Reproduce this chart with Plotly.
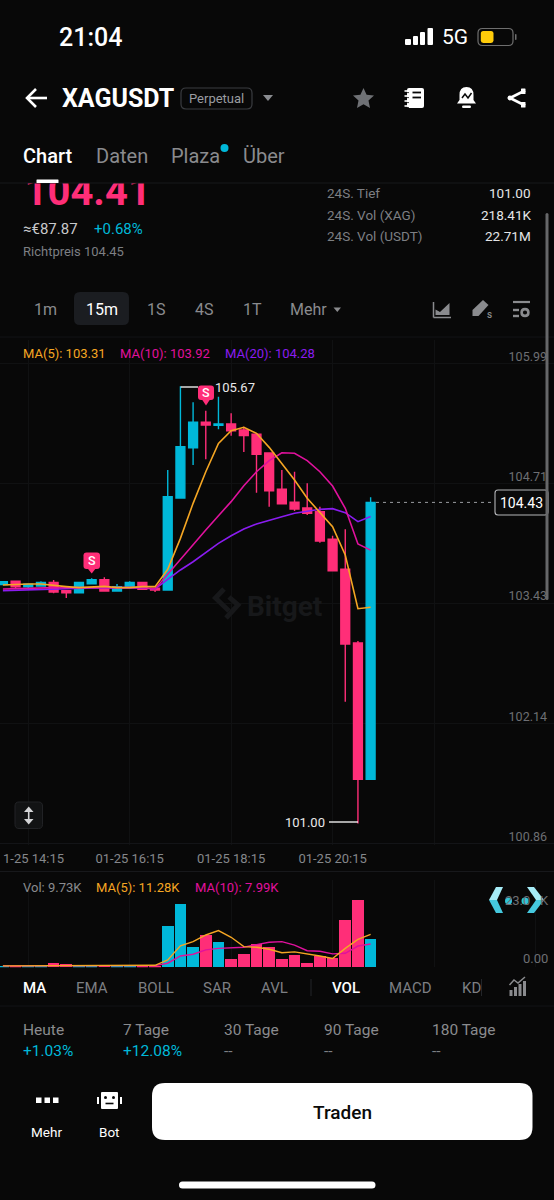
"""XAGUSDT 15m candle screen, phone screenshot style."""
import pandas as pd
import plotly.graph_objects as go

W, H = 554, 1200
BG = "#080808"
UP = "#00B8D9"
DOWN = "#FF2E78"
C_MA5 = "#F5A623"
C_MA10 = "#E0119D"
C_MA20 = "#8A1CF0"
GREY = "#8a8b8e"
GRID = "#101112"
FONT = "Roboto"

times = pd.date_range("2026-01-25 13:45", periods=30, freq="15min")

opens = [103.551, 103.587, 103.529, 103.537, 103.576, 103.487, 103.465, 103.561, 103.604, 103.483,
         103.529, 103.576, 103.512, 103.494, 104.477, 105.014, 105.286, 105.254, 105.268, 105.203,
         105.158, 104.958, 104.570, 104.431, 104.370, 104.331, 104.036, 103.715, 102.928, 101.472]
highs = [103.590, 103.590, 103.555, 103.587, 103.601, 103.494, 103.576, 103.619, 103.630, 103.558,
         103.587, 103.576, 103.512, 104.776, 105.670, 105.499, 105.410, 105.559, 105.382, 105.239,
         105.171, 104.958, 104.776, 104.758, 104.634, 104.384, 104.074, 104.143, 102.949, 104.484]
lows = [103.551, 103.515, 103.508, 103.537, 103.459, 103.409, 103.465, 103.561, 103.476, 103.483,
        103.529, 103.494, 103.473, 103.494, 104.477, 104.830, 104.890, 105.211, 105.143, 104.968,
        104.534, 104.384, 104.416, 104.338, 104.295, 104.000, 103.700, 102.301, 101.000, 101.472]
closes = [103.583, 103.529, 103.555, 103.576, 103.473, 103.465, 103.576, 103.604, 103.483, 103.529,
          103.576, 103.502, 103.494, 104.491, 105.025, 105.286, 105.257, 105.268, 105.196, 105.143,
          104.944, 104.555, 104.416, 104.359, 104.314, 104.018, 103.700, 102.917, 101.472, 104.430]

ma5 = [103.548, 103.555, 103.558, 103.558, 103.540, 103.530, 103.519, 103.530, 103.533, 103.519,
       103.519, 103.530, 103.530, 103.715, 104.046, 104.420, 104.758, 105.061, 105.197, 105.232,
       105.168, 105.018, 104.848, 104.669, 104.474, 104.320, 104.170, 103.868, 103.294, 103.310]
ma10 = [103.505, 103.508, 103.515, 103.522, 103.519, 103.519, 103.519, 103.526, 103.526, 103.526,
        103.522, 103.519, 103.505, 103.665, 103.822, 103.975, 104.135, 104.288, 104.438, 104.608,
        104.758, 104.876, 104.961, 104.955, 104.876, 104.758, 104.605, 104.367, 103.986, 103.920]
ma20 = [103.487, 103.491, 103.498, 103.505, 103.508, 103.508, 103.512, 103.515, 103.515, 103.519,
        103.519, 103.515, 103.505, 103.608, 103.708, 103.796, 103.893, 103.993, 104.074, 104.146,
        104.199, 104.242, 104.277, 104.314, 104.338, 104.356, 104.363, 104.320, 104.224, 104.280]

volumes = [0.5, 0.6, 0.4, 0.5, 1.6, 1.1, 0.5, 0.4, 0.7, 0.5, 0.4, 0.5, 0.4, 14.3, 21.6, 7.1, 11.0,
           8.7, 2.75, 4.6, 8.0, 7.0, 2.86, 4.1, 1.6, 3.9, 3.2, 16.25, 23.0, 9.73]
vol_ma5 = [0.5, 0.5, 0.5, 0.5, 0.65, 0.75, 0.75, 0.75, 0.75, 0.6, 0.5, 0.5, 0.69, 2.5, 7.4, 8.8,
           11.1, 12.6, 10.3, 7.1, 6.9, 6.2, 5.0, 5.3, 4.7, 3.9, 3.0, 6.5, 9.6, 11.28]
vol_ma10 = [0.5, 0.5, 0.5, 0.5, 0.55, 0.6, 0.65, 0.65, 0.65, 0.65, 0.6, 0.6, 0.57, 1.4, 3.9, 4.5,
            6.0, 6.5, 6.75, 6.9, 7.8, 8.6, 8.8, 7.6, 5.7, 5.5, 4.6, 4.8, 7.3, 7.99]

price_ticks = [105.99, 104.71, 103.43, 102.14, 100.86]
price_grid = [105.909, 104.628, 103.345, 102.063, 100.78]
time_ticks = ["2026-01-25 14:15", "2026-01-25 16:15", "2026-01-25 18:15", "2026-01-25 20:15",
              "2026-01-25 22:15", "2026-01-26 00:15"]
time_labels = ["", "01-25 16:15", "01-25 18:15", "01-25 20:15", "", ""]

# screen pixels -> axis ranges
PX_PER_CANDLE = 12.68
PX_PER_PRICE = 93.6
PX_PER_K = 2.912
step = pd.Timedelta(minutes=15)
x_range = [times[0] - step * (2.9 / PX_PER_CANDLE), times[0] + step * ((W - 2.9) / PX_PER_CANDLE)]


def price_at(py):
    return 103.43 + (596 - py) / PX_PER_PRICE


def px(x, y):
    return f"{x / W:.5f} {1 - y / H:.5f}"


def poly(points):
    return "M" + " L".join(px(x, y) for x, y in points) + " Z"


def rrect(x0, y0, x1, y1, r):
    return (f"M{px(x0 + r, y0)} L{px(x1 - r, y0)} Q{px(x1, y0)} {px(x1, y0 + r)} "
            f"L{px(x1, y1 - r)} Q{px(x1, y1)} {px(x1 - r, y1)} L{px(x0 + r, y1)} "
            f"Q{px(x0, y1)} {px(x0, y1 - r)} L{px(x0, y0 + r)} Q{px(x0, y0)} {px(x0 + r, y0)} Z")


def circle(cx, cy, r):
    return rrect(cx - r, cy - r, cx + r, cy + r, r)


shapes = []
annotations = []


def fill(path, color):
    shapes.append(dict(type="path", path=path, xref="paper", yref="paper", fillcolor=color,
                       line=dict(width=0)))


def stroke(path, color, width=1.5, dash="solid"):
    shapes.append(dict(type="path", path=path, xref="paper", yref="paper",
                       fillcolor="rgba(0,0,0,0)", line=dict(color=color, width=width, dash=dash)))


def seg(x0, y0, x1, y1, color, width=1.5):
    stroke(f"M{px(x0, y0)} L{px(x1, y1)}", color, width)


def label(x, y, text, size=14, color=GREY, anchor="left", weight=400):
    # annotations sit a little inside their anchor
    x += {"left": -1.5, "right": 1, "center": 0}[anchor]
    annotations.append(dict(x=x / W, y=1 - y / H, xref="paper", yref="paper", text=text,
                            showarrow=False, xanchor=anchor, yanchor="middle", borderpad=0,
                            font=dict(family=FONT, size=size, color=color, weight=weight)))


fig = go.Figure()

fig.add_trace(go.Candlestick(
    x=times, open=opens, high=highs, low=lows, close=closes,
    increasing=dict(line=dict(color=UP, width=1.4), fillcolor=UP),
    decreasing=dict(line=dict(color=DOWN, width=1.4), fillcolor=DOWN),
    whiskerwidth=0, hoverinfo="skip",
))
for values, color in [(ma20, C_MA20), (ma10, C_MA10), (ma5, C_MA5)]:
    fig.add_trace(go.Scatter(x=times, y=values, mode="lines", line=dict(color=color, width=1.6),
                             hoverinfo="skip"))

vol_colors = [UP if c >= o else DOWN for o, c in zip(opens, closes)]
fig.add_trace(go.Bar(x=times, y=volumes, width=step.total_seconds() * 1000 * 0.92,
                     marker=dict(color=vol_colors, line=dict(width=0)),
                     xaxis="x2", yaxis="y2", hoverinfo="skip"))
for values, color in [(vol_ma10, C_MA10), (vol_ma5, C_MA5)]:
    fig.add_trace(go.Scatter(x=times, y=values, mode="lines", line=dict(color=color, width=1.4),
                             xaxis="x2", yaxis="y2", hoverinfo="skip"))

# last price, cut off by the sticky tab bar
fig.add_trace(go.Scatter(x=[24.5], y=[195], mode="text", text=["104.41"], textposition="middle right",
                         textfont=dict(family=FONT, size=40, color=DOWN, weight=700),
                         cliponaxis=True, xaxis="x3", yaxis="y3", hoverinfo="skip"))

# status bar
label(59, 37, "21:04", 25, "#ffffff", weight=500)
for x0, x1, top in [(405, 411, 39), (413, 418, 36), (420, 425, 32), (427.5, 433, 28)]:
    fill(rrect(x0, top, x1, 45, 1), "#ffffff")
label(442, 37, "5G", 21, "#ffffff")
stroke(rrect(478, 28.5, 513, 45.5, 4.5), "#6e6e6e", 1.2)
fill(rrect(480.8, 31, 493.5, 43, 2.5), "#FFCC0A")
fill(rrect(515, 34, 516.5, 40, 0.7), "#6e6e6e")

# header
seg(27, 98, 47, 98, "#ffffff", 2.6)
stroke(f"M{px(36, 89)} L{px(27, 98)} L{px(36, 107)}", "#ffffff", 2.6)
label(62.5, 98, "XAGUSDT", 25, "#ffffff", weight=700)
stroke(rrect(181, 88, 252, 109, 5), "#3a3c40", 1.2)
label(216.5, 98.5, "Perpetual", 13, "#9a9ca0", "center")
fill(poly([(263, 95), (273, 95), (268, 101)]), "#8a8c90")
star = [(363.5, 88), (366.6, 94.8), (374, 95.6), (368.5, 100.6), (370, 108), (363.5, 104.3),
        (357, 108), (358.5, 100.6), (353, 95.6), (360.4, 94.8)]
fill(poly(star), "#6f7175")
fill(rrect(407, 88, 424, 108, 2), "#ffffff")
for yy in (91, 96, 101, 106):
    seg(404.5, yy, 409, yy, "#ffffff", 1.6)
    seg(406, yy + 1.6, 409, yy + 1.6, BG, 0.8)
for yy in (92.5, 97.5):
    seg(412.5, yy, 421, yy, BG, 1.8)
fill("M" + px(457, 103.5) + " L" + px(459.5, 100) + " L" + px(459.5, 95) + " Q" + px(459.5, 87) + " "
     + px(466.5, 87) + " Q" + px(473.5, 87) + " " + px(473.5, 95) + " L" + px(473.5, 100) + " L" + px(476, 103.5) + " Z",
     "#ffffff")
fill(rrect(462, 105.5, 471, 108, 1.2), "#ffffff")
stroke(f"M{px(462, 98)} L{px(465, 94)} L{px(468, 98)} L{px(471.5, 93)}", BG, 1.5)
stroke(f"M{px(525, 90.5)} L{px(510, 98)} L{px(525, 105.5)}", "#ffffff", 2.6)
fill(rrect(521, 88.5, 525.5, 94, 0.6), "#ffffff")
fill(rrect(521, 102, 525.5, 107.5, 0.6), "#ffffff")
fill(circle(510, 98, 2.4), "#ffffff")

# tabs
label(23.5, 156, "Chart", 20, "#ffffff", weight=500)
label(96, 156, "Daten", 20, GREY)
label(171, 156, "Plaza", 20, GREY)
fill(circle(224.5, 148, 4), UP)
label(243.5, 156, "Über", 20, GREY)
seg(0, 183, W, 183, "#17181b", 1)
fill(rrect(36.5, 179.5, 58.5, 183, 0.5), "#ffffff")

# ticker block
label(23, 229, "≈€87.87", 15, "#c8c9cc")
label(94, 229, "+0.68%", 15, UP)
label(23, 252, "Richtpreis 104.45", 13, "#7d7f83")
for yy, name, val in [(193, "24S. Tief", "101.00"), (215, "24S. Vol (XAG)", "218.41K"),
                      (236, "24S. Vol (USDT)", "22.71M")]:
    label(327, yy, name, 13.5, "#7d7f83")
    label(531, yy, val, 13.5, "#e4e5e7", "right")

# interval row
fill(rrect(74, 292, 129, 325, 6), "#1b1d21")
for x, t, col in [(45, "1m", GREY), (101.5, "15m", "#ffffff"), (156, "1S", GREY),
                  (204, "4S", GREY), (252, "1T", GREY)]:
    label(x, 309, t, 16, col, "center")
label(290, 309.5, "Mehr", 16, GREY)
fill(poly([(333.5, 307.5), (341, 307.5), (337.3, 312)]), GREY)
fill(poly([(435.5, 315), (435.5, 309.5), (440, 312), (449.5, 303), (449.5, 315)]), GREY)
seg(433.5, 302, 433.5, 317.5, GREY, 1.5)
seg(433.5, 317.5, 451, 317.5, GREY, 1.5)
fill(poly([(472.5, 316), (472.5, 310), (483, 300), (488.5, 305), (478.5, 316)]), GREY)
label(489.5, 314, "s", 10, GREY, "center", 500)
seg(513, 302, 530, 302, GREY, 2.2)
seg(513, 310, 519, 310, GREY, 2.4)
seg(513, 316, 519, 316, GREY, 2.4)
stroke(circle(525, 312.5, 3.4), GREY, 2.6)
seg(0, 337, W, 337, "#131417", 1)

# chart overlays
label(23, 354, "MA(5): 103.31", 13, C_MA5)
label(120, 354, "MA(10): 103.92", 13, C_MA10)
label(225, 354, "MA(20): 104.28", 13, C_MA20)

# high / low tags
seg(180.7, 387, 198, 387, "#ffffff", 1.3)
label(215.5, 388, "105.67", 13, "#e8e8ea")
seg(329, 822, 358, 822, "#ffffff", 1.3)
label(324.5, 822, "101.00", 13, "#e8e8ea", "right")
for x0, x1, y0, y1, cx, tip in [(198, 214, 385.5, 400, 206, 405.5), (83.5, 100, 552.5, 569, 91.7, 573.5)]:
    fill(rrect(x0, y0, x1, y1, 3), DOWN)
    fill(poly([(cx - 4, y1 - 0.5), (cx + 4, y1 - 0.5), (cx, tip)]), DOWN)
    label(cx, (y0 + y1) / 2, "S", 12.5, "#ffffff", "center", 500)

# last price line and box
shapes.append(dict(type="line", xref="paper", yref="y", x0=376 / W, x1=495 / W, y0=104.43, y1=104.43,
                   line=dict(color="#9a9ca0", width=1, dash="3px,4px")))
fill(rrect(495, 490, 548, 515, 3), "#0a0a0a")
stroke(rrect(495, 490, 548, 515, 3), "#b4b5b8", 1.1)
label(521.5, 503, "104.43", 14, "#ffffff", "center")

# watermark
stroke(f"M{px(224, 589)} L{px(215.5, 598)} L{px(229, 611)}", "#17181a", 5)
stroke(f"M{px(229, 597)} L{px(238, 605)} L{px(226, 618)}", "#17181a", 5)
label(247.5, 606, "Bitget", 28, "#17181a", weight=700)

# scroll + resize chips
fill(rrect(545.5, 213, 548.5, 600, 1.5), "#666769")
fill(rrect(15, 802, 42.5, 828.5, 4), "#121314")
stroke(rrect(15, 802, 42.5, 828.5, 4), "#222326", 1)
seg(28.7, 810, 28.7, 821, "#d4d5d7", 1.6)
fill(poly([(24, 812), (33.5, 812), (28.7, 806.5)]), "#d4d5d7")
fill(poly([(24, 819), (33.5, 819), (28.7, 824.5)]), "#d4d5d7")

# volume panel text
seg(0, 843.5, W, 843.5, "#131417", 1)
seg(0, 871.5, W, 871.5, "#17181b", 1)
# the leading 0 of this label runs off the screen in the app
label(3, 858, "1-25 14:15", 13, "#85878b")
label(23, 887, "Vol: 9.73K", 13, GREY)
label(96, 887, "MA(5): 11.28K", 13, C_MA5)
label(195, 887, "MA(10): 7.99K", 13, C_MA10)
label(548, 958.5, "0.00", 13, "#6d6f73", "right")
label(517.5, 900, "23.0", 13, "#6d6f73", "center")
label(549, 900, "K", 13, "#6d6f73", "right")
fill(poly([(496, 887), (503, 887), (497, 900), (489, 900)]), "#a6ecf7")
fill(poly([(489, 900), (497, 900), (503, 913), (496, 913)]), "#45c8de")
fill(poly([(527, 887), (534, 887), (544, 900), (536, 900)]), "#a6ecf7")
fill(poly([(536, 900), (544, 900), (534, 913), (527, 913)]), "#45c8de")
fill(circle(508.5, 901, 3.5), "#2fc5d8")
fill(circle(525, 901, 3.5), "#2fc5d8")

# indicator row
for x, t, col, w8 in [(23, "MA", "#ffffff", 500), (76, "EMA", "#7d7f83", 400), (138, "BOLL", "#7d7f83", 400),
                      (203, "SAR", "#7d7f83", 400), (261, "AVL", "#7d7f83", 400), (332, "VOL", "#ffffff", 500),
                      (389.5, "MACD", "#7d7f83", 400), (462, "KD", "#7d7f83", 400)]:
    label(x, 988, t, 15, col, weight=w8)
seg(311, 979, 311, 996, "#24262a", 1)
seg(481.5, 979, 481.5, 996, "#24262a", 1)
for x0, top in [(509.5, 990), (514, 987), (518.5, 984), (523, 981)]:
    fill(poly([(x0, top), (x0 + 3, top), (x0 + 3, 996), (x0, 996)]), GREY)
stroke(f"M{px(509.5, 985)} L{px(514, 980)} L{px(518, 983)} L{px(525, 977)}", GREY, 1.5)
seg(0, 1006, W, 1006, "#131417", 1)

# performance row
for x, head, val, col in [(23, "Heute", "+1.03%", UP), (123.5, "7 Tage", "+12.08%", UP),
                          (224, "30 Tage", "--", "#7d7f83"), (324.5, "90 Tage", "--", "#7d7f83"),
                          (432, "180 Tage", "--", "#7d7f83")]:
    label(x, 1030, head, 15.5, GREY)
    label(x, 1051, val, 15.5, col)

# bottom bar
for x in (36, 44.5, 53):
    fill(poly([(x, 1097.5), (x + 5.5, 1097.5), (x + 5.5, 1103), (x, 1103)]), "#ffffff")
label(46.5, 1132, "Mehr", 13.5, "#ffffff", "center")
fill(rrect(101, 1092, 118, 1109, 1), "#ffffff")
seg(98, 1097, 98, 1104, "#ffffff", 2)
seg(121, 1097, 121, 1104, "#ffffff", 2)
fill(circle(105.5, 1097.5, 1.5), BG)
fill(circle(113.5, 1097.5, 1.5), BG)
seg(105.5, 1103.5, 113.5, 1103.5, BG, 1.6)
label(109.5, 1132, "Bot", 13.5, "#ffffff", "center")
fill(rrect(152, 1083, 532.5, 1140, 13), "#ffffff")
label(342, 1112, "Traden", 19, "#0a0a0a", "center", 500)
fill(rrect(179, 1181.5, 375.5, 1188.5, 3.5), "#ffffff")

hidden = dict(visible=False, fixedrange=True)
fig.update_layout(
    width=W, height=H,
    margin=dict(l=0, r=0, t=0, b=0),
    paper_bgcolor=BG, plot_bgcolor="rgba(0,0,0,0)",
    showlegend=False,
    boxgap=0,
    boxmode="overlay",
    bargap=0,
    shapes=shapes,
    annotations=annotations,
    xaxis=dict(domain=[0, 1], range=x_range, anchor="y", rangeslider=dict(visible=False),
               tickmode="array", tickvals=time_ticks, ticktext=time_labels, tickangle=0,
               ticklabelstandoff=4, showgrid=True, gridcolor=GRID, gridwidth=1, zeroline=False,
               showline=False, ticks="", tickfont=dict(family=FONT, size=13, color="#85878b")),
    yaxis=dict(domain=[1 - 845 / H, 1 - 340 / H], range=[price_at(845), price_at(340)], anchor="x",
               side="right", tickmode="array", tickvals=price_ticks,
               ticktext=[f"{v:.2f}" for v in price_ticks], ticklabelposition="inside",
               ticklabelstandoff=4, showgrid=False, zeroline=False, showline=False, ticks="",
               tickfont=dict(family=FONT, size=12.5, color="#6d6f73"),
               minor=dict(tickmode="array", tickvals=price_grid, showgrid=True, gridcolor=GRID,
                          gridwidth=1, ticks="")),
    xaxis2=dict(domain=[0, 1], range=x_range, anchor="y2", matches="x", rangeslider=dict(visible=False),
                tickmode="array", tickvals=time_ticks, showticklabels=False, showgrid=True,
                gridcolor=GRID, gridwidth=1, zeroline=False, ticks=""),
    yaxis2=dict(domain=[1 - 967.3 / H, 1 - 880 / H], range=[0, (967.3 - 880) / PX_PER_K], anchor="x2",
                showticklabels=False, showgrid=False, zeroline=False, ticks=""),
    xaxis3=dict(domain=[0, 1], range=[0, W], anchor="y3", **hidden),
    yaxis3=dict(domain=[1 - 240 / H, 1 - 183 / H], range=[240, 183], anchor="x3", **hidden),
)

fig.write_html("out.html", config={"displayModeBar": False},
               post_script=f"document.body.style.margin='0';document.body.style.background='{BG}';")
